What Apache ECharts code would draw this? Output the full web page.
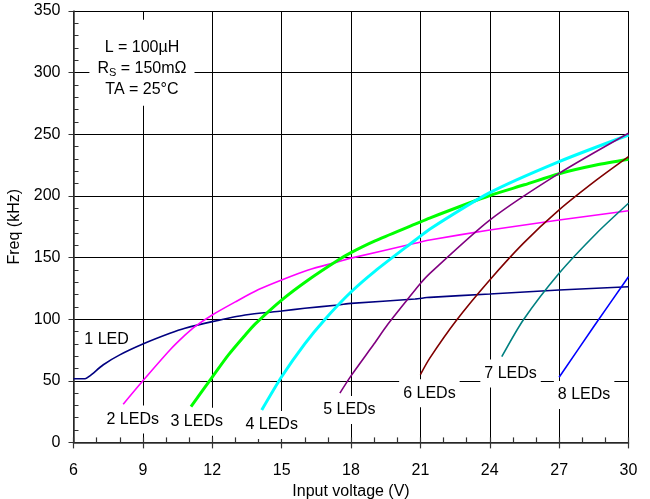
<!DOCTYPE html>
<html>
<head>
<meta charset="utf-8">
<script src="https://cdn.jsdelivr.net/npm/echarts@6/dist/echarts.min.js"></script>
<style>html,body{margin:0;padding:0;background:#fff}#c{width:650px;height:499px}</style>
</head>
<body>
<div id="c"></div>
<script>
// ---- data ----
const seriesNames = ['1 LED','2 LEDs','3 LEDs','4 LEDs','5 LEDs','6 LEDs','7 LEDs','8 LEDs'];
const led1V = [6, 6.5, 6.71, 7.29, 8.0, 9, 10.17, 10.82, 12, 13.42, 15, 16, 17.45, 18, 20.77, 21.4, 24, 27, 30];
const led1F = [51.7, 51.7, 54, 63, 71, 79.8, 88.5, 92.6, 98, 103.4, 106.6, 108.8, 111.5, 112.8, 116.3, 117.7, 120.4, 123.6, 126.3];
const led2V = [8.15, 9, 10.17, 10.82, 11.25, 12, 13, 14, 15, 16.15, 17.45, 18, 20.77, 21.4, 24, 27, 30];
const led2F = [31, 50, 75, 87, 94, 103.4, 114, 124, 131.8, 139.9, 146.6, 149.5, 161.5, 164.2, 172.3, 180.4, 188];
const led3V = [11.08, 12, 12.7, 13.42, 13.85, 15, 16.15, 17.45, 18, 19.04, 20.77, 21.4, 24, 25.5, 27, 28.6, 30];
const led3F = [29, 53, 71, 87, 96, 115.5, 131.8, 148, 154, 163.5, 177, 182, 200.3, 209, 218, 225, 229.7];
const led4V = [14.14, 15, 16, 16.88, 18, 19.04, 20.77, 21.4, 24, 27, 30];
const led4F = [26.3, 53.3, 80, 100, 122, 139, 164, 173, 202.6, 227.8, 249.4];
const led5V = [17.52, 18, 19, 19.6, 20.4, 21, 21.4, 24, 27, 30];
const led5F = [40, 54, 80, 96, 115, 129, 137, 180.4, 218.3, 250.8];
const led6V = [21, 21.4, 22.57, 24, 25.45, 27, 28.62, 30];
const led6F = [55, 68.2, 99.3, 131.8, 161.5, 188.6, 212.9, 231.8];
const led7V = [24.52, 25.45, 27, 28.62, 30];
const led7F = [69.5, 99.3, 137.2, 169.7, 194];
const led8V = [27, 28.5, 30];
const led8F = [52.8, 94, 134.4];

const labelNames = ['1 LED','2 LEDs','3 LEDs','4 LEDs','5 LEDs','6 LEDs','7 LEDs','8 LEDs'];
const labelV = [7.43, 8.56, 11.33, 14.57, 17.93, 21.39, 24.9, 28.08];
const labelF = [83.6, 18.5, 16.8, 14.1, 26.3, 39.8, 56, 38.5];

const noteV = 8.96, noteF = 308;
const noteText = 'L = 100µH\nR{s|S} = 150mΩ\nTA = 25°C';

const xTicks = {min: 6, max: 30, interval: 3};
const yTicks = {min: 0, max: 350, interval: 50};

// ---- styles ----
const colors = ['#000080','#FF00FF','#00FF00','#00FFFF','#800080','#800000','#008080','#0000FF'];
const widths = [1.6, 1.6, 3, 3, 1.6, 1.6, 1.6, 1.6];
const FONT = 'Liberation Sans, Arial, sans-serif';

const allV = [led1V, led2V, led3V, led4V, led5V, led6V, led7V, led8V];
const allF = [led1F, led2F, led3F, led4F, led5F, led6F, led7F, led8F];

const lineSeries = seriesNames.map((n, i) => ({
  name: n, type: 'line', xAxisIndex: 0, yAxisIndex: 0,
  data: allV[i].map((v, j) => [v, allF[i][j]]),
  showSymbol: false, symbol: 'none', smooth: 0.25,
  lineStyle: {color: colors[i], width: widths[i]},
  z: 5, silent: true
}));

const labelStyle = {
  show: true, position: 'inside', fontFamily: FONT, fontSize: 16,
  color: '#000', opacity: 1, textBorderWidth: 0, textShadowBlur: 0,
  backgroundColor: '#fff'
};

const labelSeries = {
  type: 'scatter', xAxisIndex: 0, yAxisIndex: 0, z: 2, silent: true,
  symbolSize: 1, itemStyle: {color: 'rgba(255,255,255,0)'},
  data: labelNames.map((n, i) => ({name: n, value: [labelV[i], labelF[i]]})),
  label: Object.assign({}, labelStyle, {formatter: p => p.name, padding: [6, 4]})
};

const noteSeries = {
  type: 'scatter', xAxisIndex: 0, yAxisIndex: 0, z: 2, silent: true,
  symbolSize: 1, itemStyle: {color: 'rgba(255,255,255,0)'},
  data: [{name: 'note', value: [noteV, noteF]}],
  label: Object.assign({}, labelStyle, {
    formatter: noteText, lineHeight: 21, align: 'center',
    padding: [17, 8, 6, 8],
    rich: {s: {fontFamily: FONT, fontSize: 11, color: '#000', padding: [9, 0, 0, 0], lineHeight: 21}}
  })
};

const axisLineStyle = {color: '#333', width: 1.5};

const option = {
  animation: false,
  backgroundColor: '#fff',
  grid: {left: 73.5, right: 21.5, top: 11, bottom: 56.6, containLabel: false, outerBoundsMode: 'none'},
  xAxis: [{
    type: 'value', position: 'bottom', min: xTicks.min, max: xTicks.max, interval: xTicks.interval,
    name: 'Input voltage (V)', nameLocation: 'middle', nameGap: 40,
    nameTextStyle: {fontFamily: FONT, fontSize: 16, color: '#000'},
    axisLine: {show: true, onZero: false, lineStyle: axisLineStyle},
    axisTick: {show: true, inside: true, length: 5, lineStyle: {color: '#333', width: 1.2}},
    axisLabel: {fontFamily: FONT, fontSize: 16, color: '#000', margin: 20},
    splitLine: {show: true, lineStyle: {color: '#000', width: 1}},
    minorTick: {show: true, splitNumber: 3, length: 5, lineStyle: {color: '#333', width: 1.2}}
  }, {
    type: 'value', position: 'bottom', min: xTicks.min, max: xTicks.max, interval: xTicks.interval,
    axisLine: {show: false, onZero: false}, axisLabel: {show: false}, splitLine: {show: false},
    axisTick: {show: true, inside: false, length: 6, lineStyle: {color: '#333', width: 1.2}},
    minorTick: {show: false}
  }],
  yAxis: [{
    type: 'value', min: yTicks.min, max: yTicks.max, interval: yTicks.interval,
    name: 'Freq (kHz)', nameLocation: 'middle', nameGap: 39,
    nameTextStyle: {fontFamily: FONT, fontSize: 16, color: '#000'},
    axisLine: {show: true, lineStyle: axisLineStyle},
    axisTick: {show: true, inside: false, length: 5, lineStyle: {color: '#333'}},
    axisLabel: {fontFamily: FONT, fontSize: 16, color: '#000', margin: 13},
    splitLine: {show: true, lineStyle: {color: '#000', width: 1}},
    minorTick: {show: false}
  }, {
    type: 'value', position: 'left', min: yTicks.min, max: yTicks.max, interval: yTicks.interval,
    axisLine: {show: false, onZero: false}, axisLabel: {show: false}, splitLine: {show: false},
    axisTick: {show: true, inside: true, length: 5, lineStyle: {width: 0, color: 'rgba(0,0,0,0)'}},
    minorTick: {show: true, splitNumber: 5, length: 5, lineStyle: {color: '#333', width: 1}}
  }],
  series: [...lineSeries, labelSeries, noteSeries]
};

const chart = echarts.init(document.getElementById('c'), null, {renderer: 'canvas'});
chart.setOption(option);
</script>
</body>
</html>
